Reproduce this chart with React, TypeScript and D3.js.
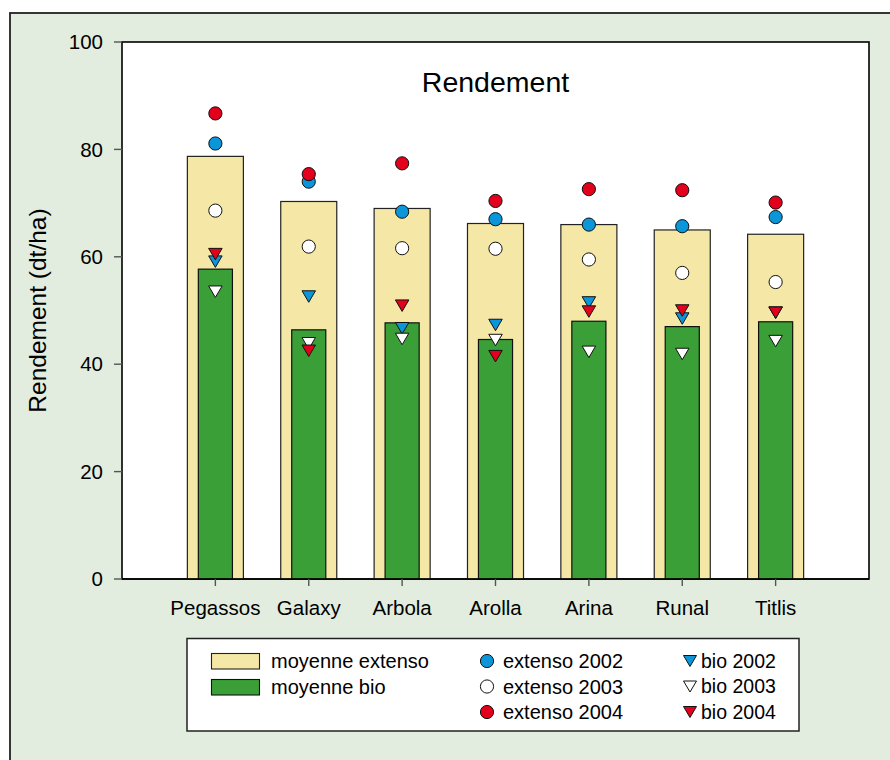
import React from "react";
import * as d3 from "d3";

const categories = ["Pegassos", "Galaxy", "Arbola", "Arolla", "Arina", "Runal", "Titlis"];
const moyenneExtenso = [78.7, 70.3, 69.0, 66.2, 66.0, 65.0, 64.2];
const moyenneBio = [57.7, 46.4, 47.7, 44.6, 48.0, 47.0, 47.9];
const extenso2002 = [81.1, 74.0, 68.4, 67.0, 66.0, 65.7, 67.4];
const extenso2003 = [68.6, 61.9, 61.6, 61.5, 59.5, 57.0, 55.3];
const extenso2004 = [86.7, 75.4, 77.4, 70.4, 72.6, 72.4, 70.1];
const bio2002 = [59.1, 52.6, 46.7, 47.3, 51.5, 48.5, 49.6];
const bio2003 = [53.5, 43.9, 44.7, 44.5, 42.3, 41.9, 44.3];
const bio2004 = [60.5, 42.5, 50.9, 41.5, 49.8, 50.0, 49.6];
const yTicks = [0, 20, 40, 60, 80, 100];

const W = 890;
const H = 760;
const plot = { left: 122, top: 42, right: 869, bottom: 579 };
const FONT = "Arial, 'Liberation Sans', sans-serif";

const C_YELLOW = "#f5e8a6";
const C_GREEN = "#3a9f36";
const C_BLUE = "#0a96d8";
const C_WHITE = "#ffffff";
const C_RED = "#e2001c";
const C_BG = "#e2eddf";

const x = d3.scaleLinear().domain([0, categories.length + 1]).range([plot.left, plot.right]);
const y = d3.scaleLinear().domain([0, 100]).range([plot.bottom, plot.top]);
const step = x(1) - x(0);
const wExt = step * 0.6;
const wBio = step * 0.365;

const triPath = (cx: number, cy: number, w = 13.5, h = 11.5) =>
  `M${cx - w / 2},${cy - h / 2}L${cx + w / 2},${cy - h / 2}L${cx},${cy + h / 2}Z`;

const circleSeries = [
  { name: "extenso 2002", values: extenso2002, color: C_BLUE },
  { name: "extenso 2003", values: extenso2003, color: C_WHITE },
  { name: "extenso 2004", values: extenso2004, color: C_RED },
];
const triSeries = [
  { name: "bio 2002", values: bio2002, color: C_BLUE },
  { name: "bio 2003", values: bio2003, color: C_WHITE },
  { name: "bio 2004", values: bio2004, color: C_RED },
];

export default function App() {
  const legendRows = [661, 686.5, 712];
  return (
    <svg
      width={W}
      height={H}
      style={{ position: "absolute", left: 0, top: 0, display: "block" }}
      fontFamily={FONT}
    >
      <rect x={0} y={0} width={W} height={H} fill="#ffffff" />
      <rect x={10} y={13} width={W + 20} height={H + 20} fill={C_BG} stroke="#222" strokeWidth={1.8} />
      <rect
        x={plot.left}
        y={plot.top}
        width={plot.right - plot.left}
        height={plot.bottom - plot.top}
        fill="#ffffff"
        stroke="#000"
        strokeWidth={1.6}
      />
      {/* bars */}
      {categories.map((c, i) => (
        <g key={c}>
          <rect
            x={x(i + 1) - wExt / 2}
            y={y(moyenneExtenso[i])}
            width={wExt}
            height={y(0) - y(moyenneExtenso[i])}
            fill={C_YELLOW}
            stroke="#222"
            strokeWidth={1.2}
          />
          <rect
            x={x(i + 1) - wBio / 2}
            y={y(moyenneBio[i])}
            width={wBio}
            height={y(0) - y(moyenneBio[i])}
            fill={C_GREEN}
            stroke="#111"
            strokeWidth={1.2}
          />
        </g>
      ))}
      {/* markers */}
      {circleSeries.map((s) =>
        s.values.map((v, i) => (
          <circle key={s.name + i} cx={x(i + 1)} cy={y(v)} r={6.6} fill={s.color} stroke="#111" strokeWidth={1} />
        ))
      )}
      {triSeries.map((s) =>
        s.values.map((v, i) => (
          <path key={s.name + i} d={triPath(x(i + 1), y(v))} fill={s.color} stroke="#111" strokeWidth={1} strokeLinejoin="round" />
        ))
      )}
      {/* redraw plot bottom border on top */}
      <line x1={plot.left} x2={plot.right} y1={plot.bottom} y2={plot.bottom} stroke="#000" strokeWidth={1.6} />
      {/* y axis ticks */}
      {yTicks.map((t) => (
        <g key={t}>
          <line x1={plot.left - 8} x2={plot.left} y1={y(t)} y2={y(t)} stroke="#555" strokeWidth={1.4} />
          <text x={103} y={y(t)} dy="0.35em" textAnchor="end" fontSize={20.5} fill="#000">
            {t}
          </text>
        </g>
      ))}
      {/* x axis ticks */}
      {categories.map((c, i) => (
        <g key={c}>
          <line x1={x(i + 1)} x2={x(i + 1)} y1={plot.bottom} y2={plot.bottom + 7} stroke="#555" strokeWidth={1.4} />
          <text x={x(i + 1)} y={615} textAnchor="middle" fontSize={20.5} fill="#000">
            {c}
          </text>
        </g>
      ))}
      {/* title */}
      <text x={(plot.left + plot.right) / 2} y={92} textAnchor="middle" fontSize={28.5} fill="#000">
        Rendement
      </text>
      {/* y label */}
      <text
        transform={`translate(46,${(plot.top + plot.bottom) / 2}) rotate(-90)`}
        textAnchor="middle"
        fontSize={24.5}
        fill="#000"
      >
        Rendement (dt/ha)
      </text>
      {/* legend */}
      <rect x={187} y={638.5} width={612} height={92.5} fill="#ffffff" stroke="#222" strokeWidth={1.5} />
      <rect x={211.5} y={653.5} width={48} height={15.5} fill={C_YELLOW} stroke="#222" strokeWidth={1.1} />
      <rect x={211.5} y={679.5} width={48} height={15.5} fill={C_GREEN} stroke="#111" strokeWidth={1.1} />
      <text x={271} y={legendRows[0]} dy="0.35em" fontSize={20}>moyenne extenso</text>
      <text x={271} y={legendRows[1]} dy="0.35em" fontSize={20}>moyenne bio</text>
      {circleSeries.map((s, k) => (
        <g key={s.name}>
          <circle cx={487} cy={legendRows[k]} r={6.6} fill={s.color} stroke="#111" strokeWidth={1} />
          <text x={503} y={legendRows[k]} dy="0.35em" fontSize={20}>{s.name}</text>
        </g>
      ))}
      {triSeries.map((s, k) => (
        <g key={s.name}>
          <path d={triPath(690, legendRows[k], 13, 11)} fill={s.color} stroke="#111" strokeWidth={1} />
          <text x={701} y={legendRows[k]} dy="0.35em" fontSize={19.5}>{s.name}</text>
        </g>
      ))}
    </svg>
  );
}
